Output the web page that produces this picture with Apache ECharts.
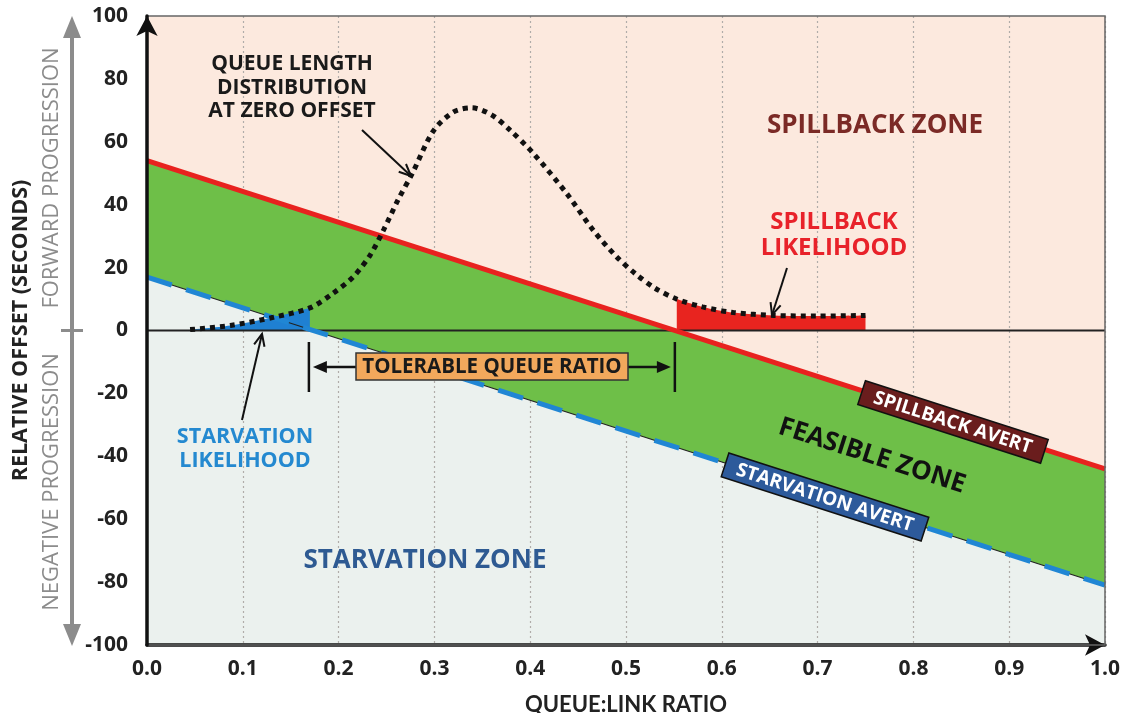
<!DOCTYPE html>
<html><head><meta charset="utf-8">
<script src="https://cdn.jsdelivr.net/npm/echarts@6/dist/echarts.min.js"></script>
<style>html,body{margin:0;padding:0;background:#fff}#c{width:1139px;height:713px}</style>
</head><body><div id="c"></div>
<script>
// ---- data ----
const xTickValues = [0.0, 0.1, 0.2, 0.3, 0.4, 0.5, 0.6, 0.7, 0.8, 0.9, 1.0];
const yTickValues = [-100, -80, -60, -40, -20, 0, 20, 40, 60, 80, 100];
const spillbackAvert = [[0, 54], [1, -44]];
const starvationAvert = [[0, 17], [1, -81]];
const queueDist = [
  [0.045, 0.3], [0.087, 1.6], [0.132, 4.2], [0.17, 7.2], [0.194, 11.8], [0.215, 17],
  [0.233, 24], [0.247, 32], [0.262, 41.5], [0.277, 50], [0.299, 63.5], [0.32, 69.5],
  [0.339, 70.8], [0.36, 68.5], [0.379, 63.7], [0.403, 56.4], [0.438, 43.6], [0.466, 31.8],
  [0.49, 23.5], [0.51, 18], [0.53, 13.5], [0.553, 10], [0.58, 7.5], [0.612, 5.7],
  [0.654, 4.8], [0.7, 4.6], [0.75, 4.8]
];
const starvationEnd = 0.17;
const spillbackStart = 0.553;
const tolerableRange = [0.169, 0.551];

const FONT = '"Open Sans", "DejaVu Sans", sans-serif';
const PEACH = '#fce9de', GREEN = '#6ebf48', GREY = '#ebf1ee';

const chart = echarts.init(document.getElementById('c'), null, {renderer: 'canvas'});

const option = {
  animation: false,
  backgroundColor: '#ffffff',
  grid: {left: 147, right: 34, top: 16, bottom: 68, show: true, z: 9, containLabel: false,
    outerBoundsMode: 'none',
    backgroundColor: 'transparent', borderColor: '#666', borderWidth: 1.5},
  xAxis: {
    type: 'value', min: 0, max: 1, interval: 0.1, z: 3,
    name: 'QUEUE:LINK RATIO', nameLocation: 'middle', nameGap: 49,
    nameTextStyle: {fontFamily: 'Lato', fontWeight: 'bold', fontSize: 22, color: '#222'},
    axisLine: {onZero: false, lineStyle: {color: '#111', width: 3.5},
      symbol: ['none', 'arrow'], symbolSize: [16, 20], symbolOffset: [0, 0]},
    axisTick: {show: false},
    axisLabel: {margin: 14, fontFamily: FONT, fontWeight: 'bold', fontSize: 21, color: '#222',
      formatter: v => v.toFixed(1)},
    splitLine: {show: true, lineStyle: {color: '#b0aca9', type: [2, 3], width: 1.2}}
  },
  yAxis: {
    type: 'value', min: -100, max: 100, interval: 20, z: 10,
    name: 'RELATIVE OFFSET (SECONDS)', nameLocation: 'middle', nameGap: 115, nameRotate: 90,
    nameTextStyle: {fontFamily: FONT, fontWeight: 'bold', fontSize: 21.5, color: '#222'},
    axisLine: {show: true, onZero: false, lineStyle: {color: '#111', width: 3.5},
      symbol: ['none', 'arrow'], symbolSize: [16, 20], symbolOffset: [0, 0]},
    axisTick: {show: false},
    axisLabel: {margin: 19, fontFamily: FONT, fontWeight: 'bold', fontSize: 21, color: '#222'},
    splitLine: {show: false}
  },
  series: [
    {type: 'line', data: spillbackAvert, symbol: 'none', silent: true, z: 1,
      lineStyle: {width: 0}, areaStyle: {color: PEACH, opacity: 1, origin: 'end'}},
    {type: 'line', data: starvationAvert, symbol: 'none', silent: true, z: 1,
      lineStyle: {width: 0}, areaStyle: {color: GREY, opacity: 1, origin: 'start'}},
    {type: 'custom', data: [[0, 0]], silent: true, z: 4,
      renderItem: (params, api) => {
        const pts = spillbackAvert.map(p => api.coord(p))
          .concat(starvationAvert.slice().reverse().map(p => api.coord(p)));
        return {type: 'polygon', shape: {points: pts}, style: {fill: GREEN}};
      }},
    {type: 'line', data: queueDist.filter(p => p[0] <= starvationEnd), symbol: 'none', smooth: 0.3,
      silent: true, z: 5, lineStyle: {width: 0}, areaStyle: {color: '#1f80d2', opacity: 1}},
    {type: 'line', data: queueDist.filter(p => p[0] >= spillbackStart), symbol: 'none', smooth: 0.3,
      silent: true, z: 5, lineStyle: {width: 0}, areaStyle: {color: '#e8241f', opacity: 1}},
    {type: 'line', data: [[0, 0], [1, 0]], symbol: 'none', silent: true, z: 6,
      lineStyle: {color: '#222', width: 2}},
    {type: 'line', data: starvationAvert, symbol: 'none', silent: true, z: 6,
      lineStyle: {color: '#222', width: 1.2}},
    {type: 'line', data: starvationAvert, symbol: 'none', silent: true, z: 7,
      lineStyle: {color: '#2086d4', width: 5, type: [26, 15]}},
    {type: 'line', data: spillbackAvert, symbol: 'none', silent: true, z: 7,
      lineStyle: {color: '#e8221f', width: 5}},
    {type: 'line', data: queueDist, symbol: 'none', smooth: 0.3, silent: true, z: 8,
      lineStyle: {color: '#111', width: 5, type: [5, 5], cap: 'butt'}}
  ]
};
chart.setOption(option);

// ---- annotations ----
function arrowLine(x1, y1, x2, y2, color, w, len, ang) {
  const a = Math.atan2(y2 - y1, x2 - x1);
  const p1 = [x2 - len * Math.cos(a - ang), y2 - len * Math.sin(a - ang)];
  const p2 = [x2 - len * Math.cos(a + ang), y2 - len * Math.sin(a + ang)];
  return [
    {type: 'line', z: 100, shape: {x1, y1, x2, y2}, style: {stroke: color, lineWidth: w}},
    {type: 'polyline', z: 100, shape: {points: [p1, [x2, y2], p2]}, style: {stroke: color, lineWidth: w, fill: null}}
  ];
}
function triHead(x, y, dir, color, len, half) {
  return {type: 'polygon', z: 100, shape: {points: [[x, y], [x - dir * len, y - half], [x - dir * len, y + half]]},
    style: {fill: color}};
}
function vHead(x, y, dir, color, len, half) {
  return {type: 'polygon', z: 100, shape: {points: [[x, y], [x - half, y - dir * len], [x + half, y - dir * len]]},
    style: {fill: color}};
}
function txt(x, y, text, size, color, extra) {
  return {type: 'text', z: 100, x, y, style: Object.assign({
    text, fontFamily: FONT, fontWeight: 'bold', fontSize: size, fill: color,
    align: 'center', verticalAlign: 'middle', lineHeight: Math.round(size * 1.22)
  }, extra || {})};
}
function rotBox(cx, cy, w, h, rot, fill, text, size, textColor) {
  return {type: 'group', x: cx, y: cy, rotation: rot, z: 100, children: [
    {type: 'rect', z: 100, shape: {x: -w / 2, y: -h / 2, width: w, height: h},
      style: {fill, stroke: '#111', lineWidth: 1.5}},
    {type: 'text', z: 101, x: 0, y: 1, style: {text, fontFamily: FONT, fontWeight: 'bold', fontSize: size,
      fill: textColor, align: 'center', verticalAlign: 'middle'}}
  ]};
}

const pL = chart.convertToPixel({gridIndex: 0}, [tolerableRange[0], 0]);
const pR = chart.convertToPixel({gridIndex: 0}, [tolerableRange[1], 0]);
const p00 = chart.convertToPixel({gridIndex: 0}, [0, 0]);
const p1a = chart.convertToPixel({gridIndex: 0}, spillbackAvert[0]);
const p1b = chart.convertToPixel({gridIndex: 0}, spillbackAvert[1]);
const ang = Math.atan2(p1b[1] - p1a[1], p1b[0] - p1a[0]);
const rot = -ang;
const tolY = 367;
const boxL = 356, boxR = 628;

const g = [];
const GRAYC = '#8c8c8c';
g.push({type: 'line', z: 100, shape: {x1: 72, y1: 34, x2: 72, y2: 628}, style: {stroke: GRAYC, lineWidth: 4}});
g.push(vHead(72, 16, -1, GRAYC, 22, 9));
g.push(vHead(72, 646, 1, GRAYC, 22, 9));
g.push({type: 'line', z: 100, shape: {x1: 61, y1: p00[1], x2: 83, y2: p00[1]}, style: {stroke: GRAYC, lineWidth: 3}});
g.push({type: 'text', z: 100, x: 52, y: 178, rotation: Math.PI / 2, style: {text: 'FORWARD PROGRESSION',
  fontFamily: FONT, fontSize: 22, fill: GRAYC, align: 'center', verticalAlign: 'middle'}});
g.push({type: 'text', z: 100, x: 52, y: 482, rotation: Math.PI / 2, style: {text: 'NEGATIVE PROGRESSION',
  fontFamily: FONT, fontSize: 22, fill: GRAYC, align: 'center', verticalAlign: 'middle'}});

g.push(txt(292, 88, 'QUEUE LENGTH\nDISTRIBUTION\nAT ZERO OFFSET', 21, '#1a1a1a', {lineHeight: 23.5}));
g.push(...arrowLine(362, 130, 411, 176, '#111', 2, 13, 0.42));

g.push(txt(875, 126, 'SPILLBACK ZONE', 26, '#7b2a26'));
g.push(txt(834, 235, 'SPILLBACK\nLIKELIHOOD', 24, '#e8222a', {lineHeight: 26}));
g.push(...arrowLine(787, 268, 772, 315, '#111', 2, 13, 0.42));

g.push(txt(245, 449, 'STARVATION\nLIKELIHOOD', 21.5, '#2489d0', {lineHeight: 23.5}));
g.push(...arrowLine(242, 420, 262, 334, '#111', 2, 13, 0.42));

g.push(txt(425, 561, 'STARVATION ZONE', 26, '#2e5a92'));

g.push({type: 'line', z: 100, shape: {x1: pL[0], y1: 342, x2: pL[0], y2: 392}, style: {stroke: '#111', lineWidth: 2.5}});
g.push({type: 'line', z: 100, shape: {x1: pR[0], y1: 342, x2: pR[0], y2: 392}, style: {stroke: '#111', lineWidth: 2.5}});
g.push({type: 'line', z: 100, shape: {x1: pL[0] + 14, y1: tolY, x2: boxL, y2: tolY}, style: {stroke: '#111', lineWidth: 2.5}});
g.push({type: 'line', z: 100, shape: {x1: boxR, y1: tolY, x2: pR[0] - 14, y2: tolY}, style: {stroke: '#111', lineWidth: 2.5}});
g.push(triHead(pL[0] + 4, tolY, -1, '#111', 14, 6));
g.push(triHead(pR[0] - 4, tolY, 1, '#111', 14, 6));
g.push({type: 'rect', z: 100, shape: {x: boxL, y: 353, width: boxR - boxL, height: 27},
  style: {fill: '#f2a85c', stroke: '#333', lineWidth: 1.5}});
g.push(txt((boxL + boxR) / 2, 367, 'TOLERABLE QUEUE RATIO', 20.5, '#1a1a1a'));

g.push(rotBox(953, 422, 192, 25, rot, '#6a1d1d', 'SPILLBACK AVERT', 19, '#ffffff'));
g.push({type: 'text', z: 100, x: 872, y: 456, rotation: rot, style: {text: 'FEASIBLE ZONE',
  fontFamily: FONT, fontWeight: 'bold', fontSize: 26, fill: '#111', align: 'center', verticalAlign: 'middle'}});
g.push(rotBox(825, 497, 210, 25, rot, '#2d5a9b', 'STARVATION AVERT', 19, '#ffffff'));

chart.setOption({graphic: {elements: g}});
</script>
</body></html>
